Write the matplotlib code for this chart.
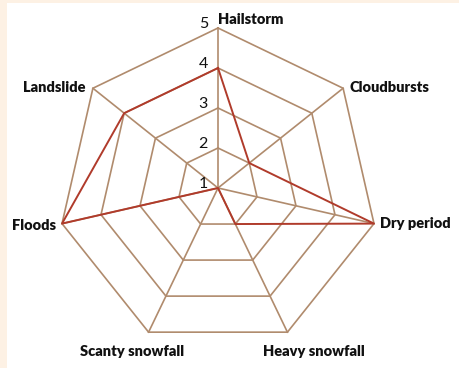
import numpy as np
import matplotlib.pyplot as plt

# Hazard scores on a 1-5 scale
hazards = ['Hailstorm', 'Cloudbursts', 'Dry period', 'Heavy snowfall',
           'Scanty snowfall', 'Floods', 'Landslide']
scores = [4, 2, 5, 2, 1, 5, 4]
levels = [1, 2, 3, 4, 5]

grid_color = '#b08b6d'
line_color = '#b03b2b'
bg_color = '#fdf1e4'

n = len(hazards)
angles = np.arange(n) * 2 * np.pi / n  # clockwise from the top


def to_xy(value, ang):
    r = value - levels[0]
    return r * np.sin(ang), r * np.cos(ang)


fig = plt.figure(figsize=(4.6, 3.68), dpi=100, facecolor=bg_color)
ax = fig.add_axes([7 / 460, 0, 453 / 460, 365 / 368])
# 1 unit = 40 px, center 218 px from the left, 180 px from the bottom
ax.set_xlim(-(218 - 7) / 40, (460 - 218) / 40)
ax.set_ylim(-180 / 40, (365 - 180) / 40)
ax.set_xticks([])
ax.set_yticks([])
ax.set_facecolor('white')
for s in ax.spines.values():
    s.set_visible(False)

# heptagon rings
for lv in levels[1:]:
    xs, ys = zip(*[to_xy(lv, a) for a in list(angles) + [angles[0]]])
    ax.plot(xs, ys, color=grid_color, lw=1.2, zorder=1)

# spokes
for a in angles:
    x, y = to_xy(levels[-1], a)
    ax.plot([0, x], [0, y], color=grid_color, lw=1.2, zorder=1)

# data polygon
pts = [to_xy(v, a) for v, a in zip(scores, angles)]
xs, ys = zip(*(pts + [pts[0]]))
ax.plot(xs, ys, color=line_color, lw=1.4, zorder=3)

# level numbers along the top spoke
for lv in levels:
    x, y = to_xy(lv, 0)
    ax.text(x - 0.25, y + 0.1, str(lv), ha='right', va='center',
            fontsize=11.5, family='Lato', color='#111111')

# hazard labels
label_pos = {
    'Hailstorm': (0.0, 4.1, 'left', 'baseline'),
    'Cloudbursts': (3.28, 2.5, 'left', 'center'),
    'Dry period': (4.05, -0.9, 'left', 'center'),
    'Heavy snowfall': (1.12, -4.1, 'left', 'center'),
    'Scanty snowfall': (-3.45, -4.1, 'left', 'center'),
    'Floods': (-4.05, -0.95, 'right', 'center'),
    'Landslide': (-3.3, 2.5, 'right', 'center'),
}
for name in hazards:
    x, y, ha, va = label_pos[name]
    ax.text(x, y, name, ha=ha, va=va, fontsize=10.5, fontweight='heavy',
            family='Lato', color='#111111')

fig.savefig('out.png', dpi=100, facecolor=bg_color)
